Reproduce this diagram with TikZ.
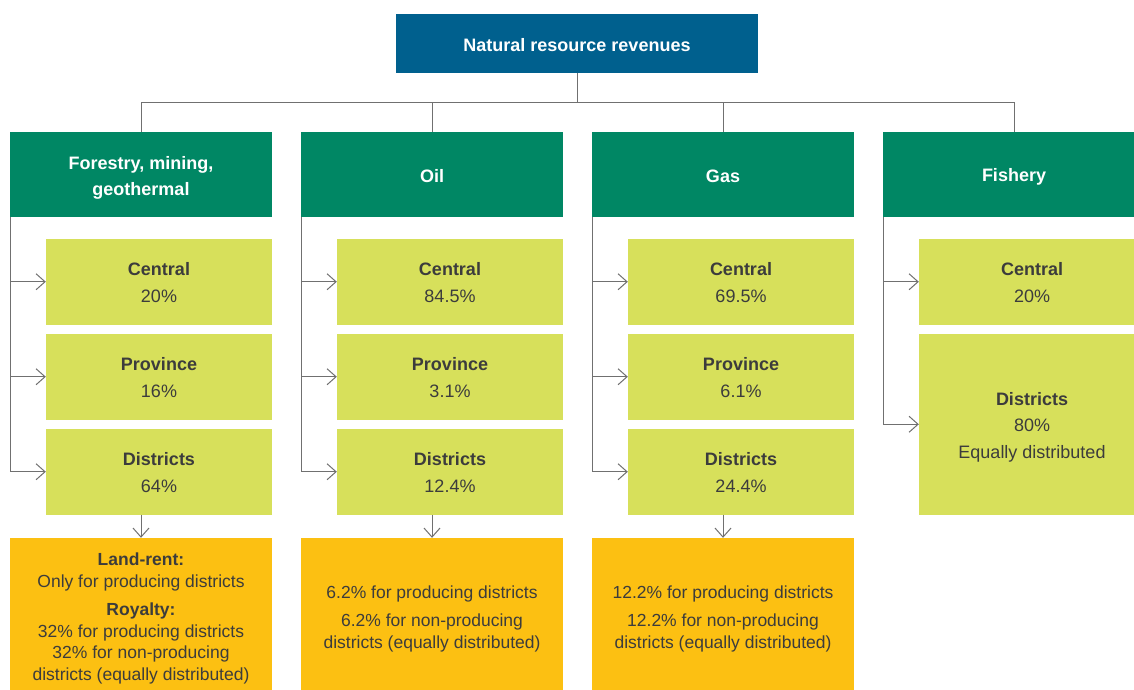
\documentclass[tikz,border=0pt]{standalone}
\usepackage{fontspec}
\setmainfont{Liberation Sans}
\usetikzlibrary{arrows.meta}
\definecolor{topblue}{HTML}{00608E}
\definecolor{headgreen}{HTML}{008764}
\definecolor{sharegreen}{HTML}{D7E05B}
\definecolor{noteorange}{HTML}{FCC012}
\definecolor{txt}{HTML}{3C3C3C}
\definecolor{linegray}{HTML}{707070}
\newcommand\mystrut[1]{\rule{0pt}{#1}}
\begin{document}
\begin{tikzpicture}[x=1pt,y=-1pt,
 lower/.style={execute at begin node={\rule{0pt}{17pt}}},
 topbox/.style={lower,fill=topblue,text=white,minimum width=362pt,minimum height=59pt,inner sep=0pt,font=\fontsize{18}{22}\selectfont\bfseries},
 headbox/.style={fill=headgreen,text=white,minimum width=262pt,minimum height=85pt,inner sep=0pt,align=center,font=\fontsize{18}{26}\selectfont\bfseries},
 sharebox/.style={fill=sharegreen,text=txt,minimum width=226pt,minimum height=85.5pt,inner sep=0pt,align=center,font=\fontsize{18}{26.5}\selectfont},
 notebox/.style={fill=noteorange,text=txt,minimum width=262pt,minimum height=156pt,inner sep=0pt,align=center,font=\fontsize{17.5}{21.5}\selectfont},
 link/.style={draw=linegray,line width=1pt},
 arr/.style={link,-{Straight Barb[length=9pt,width=16pt]}}
]
\clip (0,0) rectangle (1134,690);
\fill[white] (0,0) rectangle (1134,690);

\node[topbox] (top) at (577,43.5) {Natural resource revenues};

\node[headbox] (h1) at (141,174.5) {\mystrut{19pt}Forestry, mining,\\geothermal};
\node[headbox,lower] (h2) at (432,174.5) {Oil};
\node[headbox,lower] (h3) at (723,174.5) {Gas};
\node[headbox,lower] (h4) at (1014,174.5) {Fishery};

\node[sharebox] (c1) at (159,281.75) {\mystrut{15pt}\textbf{Central}\\20\%};
\node[sharebox] (p1) at (159,376.75) {\mystrut{15pt}\textbf{Province}\\16\%};
\node[sharebox] (d1) at (159,471.75) {\mystrut{15pt}\textbf{Districts}\\64\%};

\node[sharebox] (c2) at (450,281.75) {\mystrut{15pt}\textbf{Central}\\84.5\%};
\node[sharebox] (p2) at (450,376.75) {\mystrut{15pt}\textbf{Province}\\3.1\%};
\node[sharebox] (d2) at (450,471.75) {\mystrut{15pt}\textbf{Districts}\\12.4\%};

\node[sharebox] (c3) at (741,281.75) {\mystrut{15pt}\textbf{Central}\\69.5\%};
\node[sharebox] (p3) at (741,376.75) {\mystrut{15pt}\textbf{Province}\\6.1\%};
\node[sharebox] (d3) at (741,471.75) {\mystrut{15pt}\textbf{Districts}\\24.4\%};

\node[sharebox] (c4) at (1032,281.75) {\mystrut{15pt}\textbf{Central}\\20\%};
\node[sharebox,minimum height=180.5pt] (d4) at (1032,424.25) {\mystrut{19pt}\textbf{Districts}\\80\%\\Equally distributed};

\node[notebox] (n1) at (141,616) {\mystrut{18pt}\textbf{Land-rent:}\\Only for producing districts\\[7pt]\textbf{Royalty:}\\32\% for producing districts\\32\% for non-producing\\districts (equally distributed)};
\node[notebox] (n2) at (432,616) {\mystrut{18pt}6.2\% for producing districts\\[7pt]6.2\% for non-producing\\districts (equally distributed)};
\node[notebox] (n3) at (723,616) {\mystrut{18pt}12.2\% for producing districts\\[7pt]12.2\% for non-producing\\districts (equally distributed)};

% top connectors
\coordinate (bus) at (577,103);
\draw[link] (top.south) -- (bus);
\draw[link] (h1.north) -- (h1.north |- bus) -- (h4.north |- bus) -- (h4.north);
\draw[link] (h2.north) -- (h2.north |- bus);
\draw[link] (h3.north) -- (h3.north |- bus);

% side branches
\coordinate (s1) at ([xshift=1pt]h1.south west);
\coordinate (s2) at ([xshift=1pt]h2.south west);
\coordinate (s3) at ([xshift=1pt]h3.south west);
\coordinate (s4) at ([xshift=1pt]h4.south west);
\foreach \i in {1,2,3}{
  \draw[arr] (s\i) |- (c\i.west);
  \draw[arr] (s\i) |- (p\i.west);
  \draw[arr] (s\i) |- (d\i.west);
  \draw[arr] (d\i.south -| n\i.north) -- (n\i.north);
}
\draw[arr] (s4) |- (c4.west);
\draw[arr] (s4) |- (d4.west);
\end{tikzpicture}
\end{document}
